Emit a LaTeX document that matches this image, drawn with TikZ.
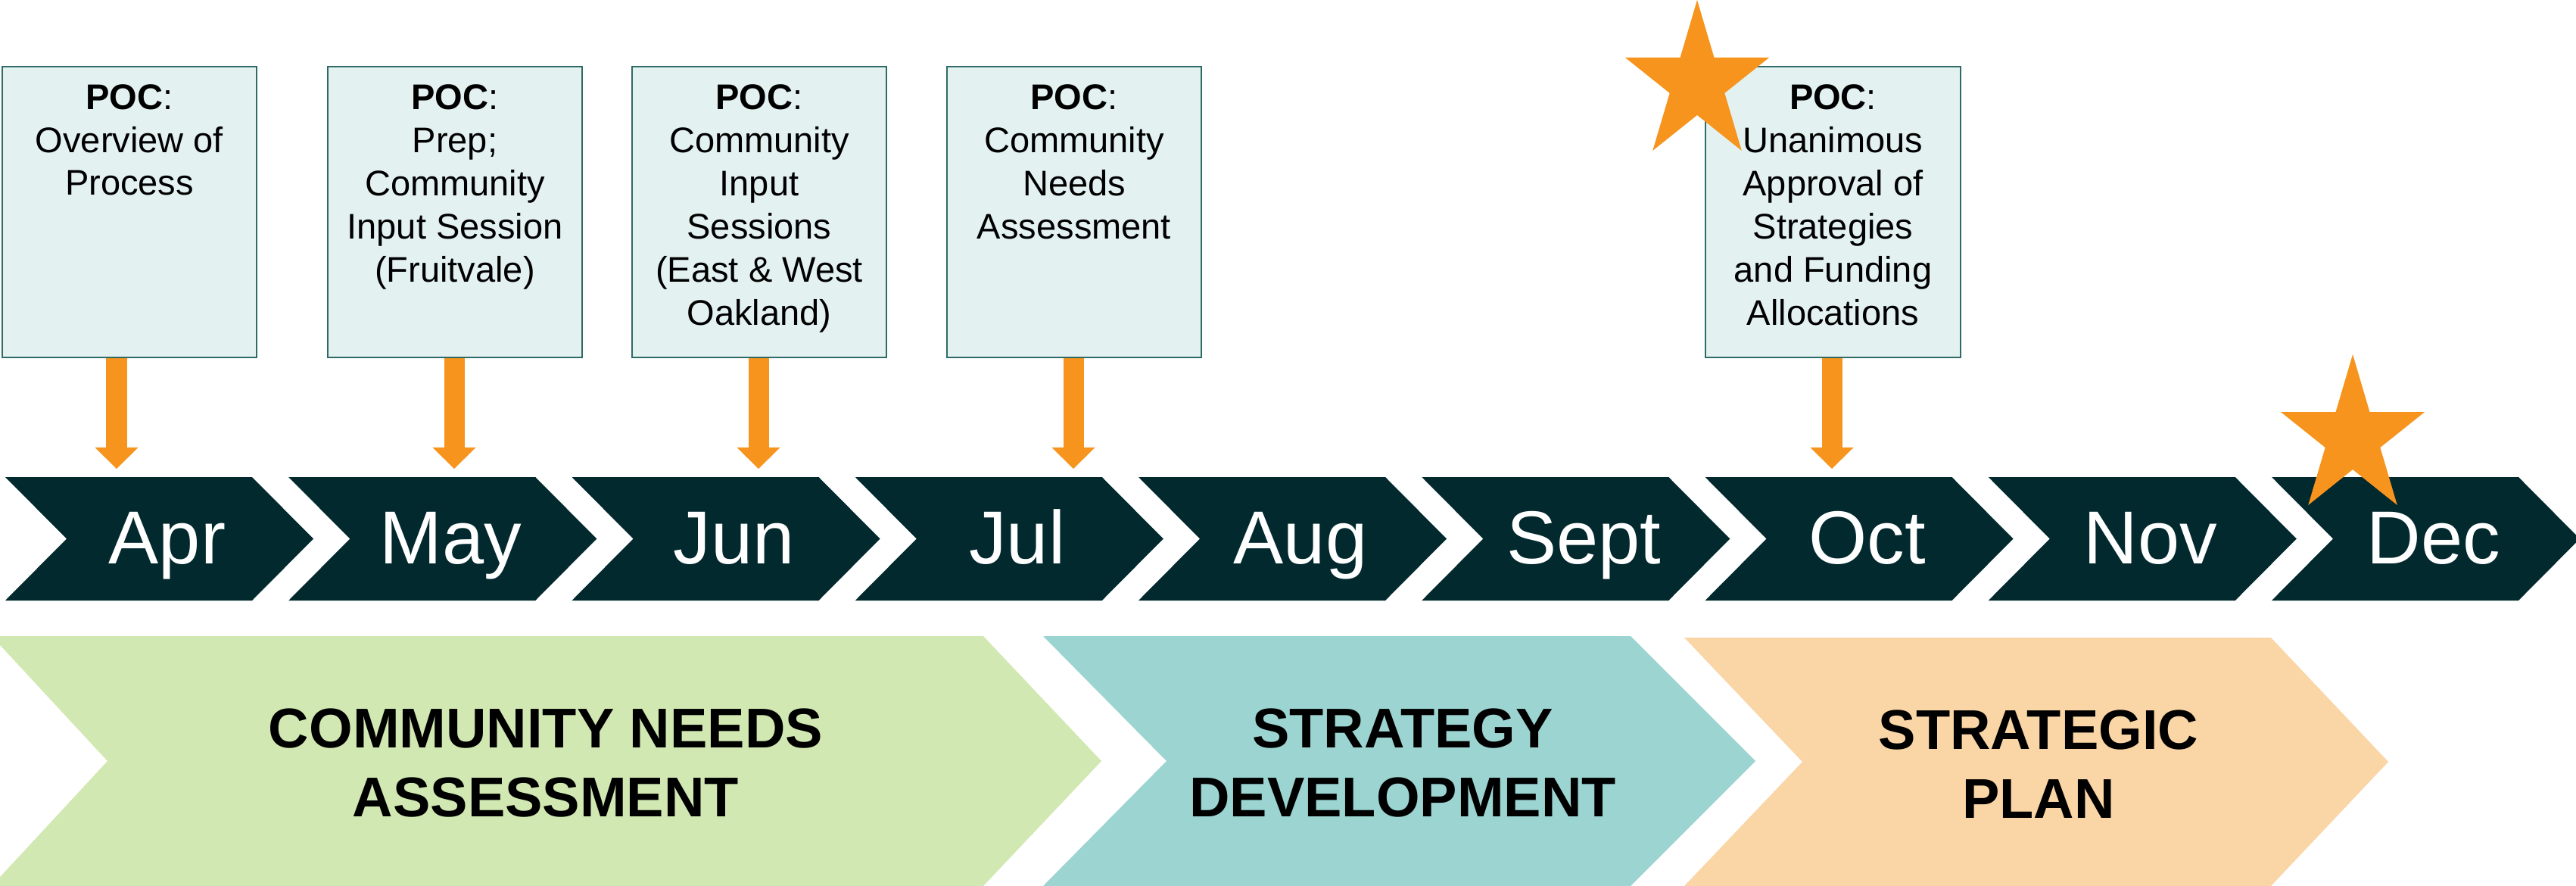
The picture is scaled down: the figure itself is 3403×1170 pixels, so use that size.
\documentclass[tikz,border=0pt]{standalone}
\usepackage{fontspec}
\setmainfont{Liberation Sans}
\usetikzlibrary{arrows.meta}
\definecolor{navyc}{HTML}{02292E}
\definecolor{orangec}{HTML}{F7941E}
\definecolor{boxfill}{HTML}{E3F2F1}
\definecolor{boxline}{HTML}{2F6B66}
\definecolor{greenc}{HTML}{D2E8B2}
\definecolor{tealc}{HTML}{9BD4D0}
\definecolor{peachc}{HTML}{FAD5A5}
\newcommand\monthchev[1]{%
  \fill[navyc] (#1,630) -- ++(326,0) -- ++(81,81.5) -- ++(-81,81.5) -- ++(-326,0) -- ++(81,-81.5) -- cycle;}
\newcommand\drawstar[2]{%
  \begin{scope}[shift={(#1,#2)},yscale=-1.1]
    \fill[orangec] (90:100) -- (126:38.2) -- (162:100) -- (198:38.2) -- (234:100) -- (270:38.2) -- (306:100) -- (342:38.2) -- (18:100) -- (54:38.2) -- cycle;
  \end{scope}}
\begin{document}
\begin{tikzpicture}[x=0.01cm,y=-0.01cm,
  pocbox/.style={draw=boxline, fill=boxfill, line width=0.6pt, minimum width=3.36cm, minimum height=3.84cm, inner sep=0pt},
  poctext/.style={align=center, font=\fontsize{13.37pt}{16.2pt}\selectfont, inner sep=0pt, anchor=base},
  monthlbl/.style={text=white, font=\fontsize{28.2pt}{30pt}\selectfont, inner sep=0pt, anchor=base},
  phaselbl/.style={align=center, font=\bfseries\fontsize{21.05pt}{25.6pt}\selectfont, inner sep=0pt, anchor=base},
  bigarr/.style={draw=orangec, line width=0.27cm, -{Triangle[width=0.57cm,length=0.28cm,line width=0pt]}}]
\useasboundingbox (0,0) rectangle (3403,1170);
\fill[white] (0,0) rectangle (3403,1170);

% phase chevrons
\fill[greenc] (-11,840) -- (1299,840) -- (1455,1005) -- (1299,1170) -- (-11,1170) -- (142,1005) -- cycle;
\fill[tealc] (1378,840) -- (2154,840) -- (2319,1005) -- (2154,1170) -- (1378,1170) -- (1541,1005) -- cycle;
\fill[peachc] (2225,842) -- (3000,842) -- (3155,1006) -- (3000,1170) -- (2225,1170) -- (2381,1006) -- cycle;
\node[phaselbl] (p1) at (721,1078) {COMMUNITY NEEDS\\ASSESSMENT};
\node[phaselbl] (p2) at (1853,1078) {STRATEGY\\DEVELOPMENT};
\node[phaselbl] (p3) at (2693,1080) {STRATEGIC\\PLAN};

% month chevrons
\foreach \k/\m [count=\i] in {0/Apr,1/May,2/Jun,3/Jul,4/Aug,5/Sept,6/Oct,7/Nov,8/Dec}{
  \pgfmathsetmacro\L{7+374.25*\k}
  \monthchev{\L}
  \node[monthlbl] (m\i) at (\L+214,744) {\m};
}

% POC boxes
\node[pocbox] (b1) at (171,280) {};
\node[poctext] (t1) at (171,258) {\textbf{POC}:\\Overview of\\Process};
\node[pocbox] (b2) at (601,280) {};
\node[poctext] (t2) at (601,372) {\textbf{POC}:\\Prep;\\Community\\Input Session\\(Fruitvale)};
\node[pocbox] (b3) at (1003,280) {};
\node[poctext] (t3) at (1003,429) {\textbf{POC}:\\Community\\Input\\Sessions\\(East \& West\\Oakland)};
\node[pocbox] (b4) at (1419,280) {};
\node[poctext] (t4) at (1419,315) {\textbf{POC}:\\Community\\Needs\\Assessment};
\node[pocbox] (b7) at (2421.5,280) {};
\node[poctext] (t7) at (2421.5,429) {\textbf{POC}:\\Unanimous\\Approval of\\Strategies\\and Funding\\Allocations};

% arrows
\coordinate (a1) at (154,619);
\coordinate (a2) at (600,619);
\coordinate (a3) at (1002,619);
\coordinate (a4) at (1418,619);
\coordinate (a7) at (2420,619);
\draw[bigarr] (b1.south -| a1) -- (a1);
\draw[bigarr] (b2.south -| a2) -- (a2);
\draw[bigarr] (b3.south -| a3) -- (a3);
\draw[bigarr] (b4.south -| a4) -- (a4);
\draw[bigarr] (b7.south -| a7) -- (a7);

% stars
\drawstar{2242}{110}
\drawstar{3108}{578}
\end{tikzpicture}
\end{document}
